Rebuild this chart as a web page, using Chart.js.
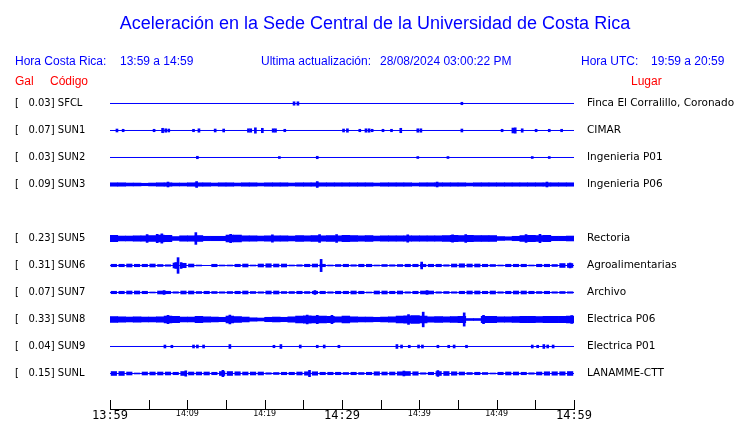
<!DOCTYPE html>
<html>
<head>
<meta charset="utf-8">
<script src="https://cdn.jsdelivr.net/npm/chart.js@4.4.1/dist/chart.umd.min.js"></script>
<style>
    body { margin: 0; background: #fff; }
</style>
</head>
<body>
<canvas id="sismo" width="740" height="423"></canvas>
<script>
// --- DATA ---
const codes  = ['SFCL', 'SUN1', 'SUN2', 'SUN3', 'SUN4', 'SUN5', 'SUN6', 'SUN7', 'SUN8', 'SUN9', 'SUNL'];
const peaks  = [0.03, 0.07, 0.03, 0.09, null, 0.23, 0.31, 0.07, 0.33, 0.04, 0.15];
const places = ['Finca El Corralillo, Coronado', 'CIMAR', 'Ingenieria P01', 'Ingenieria P06', '',
                'Rectoria', 'Agroalimentarias', 'Archivo', 'Electrica P06', 'Electrica P01', 'LANAMME-CTT'];
const tickLabels = ['13:59', '', '14:09', '', '14:19', '', '14:29', '', '14:39', '', '14:49', '', '14:59'];

const titleText   = 'Aceleración en la Sede Central de la Universidad de Costa Rica';
const horaCR      = '13:59 a 14:59';
const horaUTC     = '19:59 a 20:59';
const lastUpdate  = '28/08/2024 03:00:22 PM';

// background noise envelope, half amplitude as drawn, one value per minute
const sun3Noise = [0.07,0.07,0.06,0.06,0.05,0.06,0.07,0.07,0.06,0.06, 0.07,0.07,0.07,0.06,0.07,0.07,0.06,0.07,0.07,0.06,
                   0.07,0.07,0.07,0.06,0.07,0.07,0.07,0.07,0.07,0.07, 0.07,0.07,0.07,0.07,0.06,0.07,0.07,0.07,0.07,0.06,
                   0.07,0.07,0.07,0.07,0.07,0.07,0.06,0.07,0.07,0.07, 0.07,0.07,0.07,0.07,0.07,0.07,0.07,0.07,0.07,0.07];
const sun5Noise = [0.13,0.10,0.10,0.11,0.11,0.12,0.14,0.13,0.08,0.11, 0.11,0.12,0.09,0.09,0.09,0.14,0.14,0.11,0.11,0.10,
                   0.11,0.11,0.11,0.10,0.12,0.11,0.12,0.11,0.12,0.11, 0.13,0.12,0.11,0.12,0.10,0.11,0.11,0.11,0.11,0.11,
                   0.11,0.11,0.11,0.12,0.13,0.12,0.13,0.12,0.12,0.12, 0.08,0.07,0.09,0.12,0.13,0.12,0.13,0.09,0.09,0.10];
const sun6Noise = [0.05,0.05,0.06,0.05,0.05,0.06,0.04,0.03,0.10,0.09, 0.06,0.02,0.00,0.05,0.02,0.02,0.05,0.06,0.02,0.06,
                   0.07,0.06,0.06,0.02,0.03,0.05,0.06,0.05,0.02,0.04, 0.05,0.03,0.05,0.05,0.02,0.04,0.03,0.04,0.05,0.05,
                   0.05,0.05,0.05,0.03,0.06,0.07,0.06,0.06,0.05,0.04, 0.02,0.05,0.05,0.05,0.02,0.05,0.05,0.04,0.08,0.08];
const sun7Noise = [0.05,0.05,0.06,0.06,0.05,0.02,0.06,0.05,0.03,0.06, 0.06,0.04,0.05,0.04,0.03,0.04,0.05,0.06,0.04,0.03,
                   0.06,0.06,0.04,0.04,0.05,0.04,0.05,0.05,0.03,0.05, 0.05,0.06,0.05,0.02,0.06,0.06,0.05,0.06,0.03,0.05,
                   0.06,0.06,0.03,0.04,0.03,0.05,0.06,0.06,0.05,0.06, 0.03,0.05,0.06,0.06,0.05,0.04,0.05,0.03,0.04,0.03];
const sun8Noise = [0.12,0.11,0.10,0.11,0.10,0.10,0.11,0.14,0.13,0.10, 0.10,0.13,0.11,0.10,0.09,0.14,0.12,0.10,0.07,0.06,
                   0.09,0.10,0.09,0.11,0.14,0.15,0.14,0.14,0.13,0.11, 0.14,0.11,0.10,0.10,0.09,0.10,0.11,0.14,0.15,0.16,
                   0.14,0.11,0.12,0.11,0.12,0.13,0.04,0.04,0.13,0.13, 0.11,0.11,0.12,0.13,0.13,0.12,0.13,0.13,0.13,0.14];
const sunlNoise = [0.08,0.08,0.06,0.02,0.06,0.06,0.06,0.06,0.05,0.08, 0.06,0.06,0.06,0.05,0.08,0.08,0.07,0.06,0.06,0.06,
                   0.03,0.04,0.05,0.05,0.06,0.07,0.07,0.05,0.05,0.05, 0.04,0.05,0.04,0.05,0.07,0.06,0.06,0.07,0.08,0.07,
                   0.03,0.05,0.08,0.08,0.07,0.06,0.04,0.05,0.04,0.02, 0.05,0.06,0.06,0.05,0.03,0.06,0.07,0.07,0.07,0.08];

// isolated bursts: [minute after 13:59, half amplitude as drawn]
const sfclSpikes = [[23.8,0.07],[24.3,0.07],[45.5,0.05]];
const sun1Spikes = [[0.9,0.06],[1.7,0.05],[5.7,0.05],[6.8,0.09],[7.2,0.07],[7.6,0.06],[10.8,0.05],[11.5,0.07],[13.6,0.06],
                    [14.7,0.06],[17.9,0.07],[18.2,0.07],[18.8,0.11],[19.7,0.09],[21.1,0.07],[21.4,0.07],[22.6,0.05],
                    [30.2,0.06],[30.7,0.07],[32.3,0.05],[33.1,0.07],[33.5,0.07],[33.9,0.05],[35.3,0.05],[36.4,0.05],
                    [37.6,0.09],[39.8,0.07],[40.2,0.07],[45.5,0.06],[50.7,0.05],[52.1,0.10],[52.4,0.11],[53.3,0.07],
                    [55.1,0.05],[56.8,0.05],[58.4,0.05]];
const sun2Spikes = [[11.3,0.05],[21.9,0.04],[26.8,0.05],[39.8,0.04],[43.7,0.04],[54.6,0.04],[56.8,0.04]];
const sun3Spikes = [[7.5,0.10],[11.2,0.12],[26.8,0.12],[42.3,0.10],[56.5,0.10]];
const sun5Spikes = [[4.8,0.16],[6.1,0.17],[6.7,0.19],[11.1,0.24],[15.6,0.17],[21.0,0.15],[27.1,0.16],[29.3,0.16],
                    [38.5,0.15],[44.3,0.15],[46.0,0.16],[53.8,0.16],[55.6,0.17]];
const sun6Spikes = [[8.8,0.32],[8.5,0.12],[9.2,0.12],[27.3,0.25],[40.3,0.14],[59.5,0.10]];
const sun7Spikes = [[7.0,0.08],[26.5,0.08],[41.0,0.08]];
const sun8Spikes = [[7.5,0.17],[15.5,0.18],[25.5,0.18],[26.8,0.17],[28.7,0.17],[38.6,0.20],[40.5,0.30],[45.8,0.27],
                    [48.3,0.17],[59.7,0.16]];
const sun9Spikes = [[7.1,0.06],[8.0,0.05],[10.8,0.06],[11.3,0.06],[12.1,0.06],[15.5,0.08],[21.2,0.05],[22.1,0.08],
                    [24.6,0.06],[26.8,0.05],[27.7,0.06],[29.6,0.05],[37.1,0.08],[37.7,0.06],[38.7,0.05],[39.9,0.06],
                    [40.4,0.06],[42.4,0.05],[43.8,0.05],[44.5,0.06],[46.1,0.05],[54.6,0.06],[55.3,0.05],[56.1,0.08],
                    [56.6,0.06],[57.3,0.06]];
const sunlSpikes = [[9.8,0.11],[14.6,0.13],[25.8,0.13],[38.0,0.10],[42.4,0.12]];

const noiseByCode  = { SUN3: sun3Noise, SUN5: sun5Noise, SUN6: sun6Noise, SUN7: sun7Noise, SUN8: sun8Noise, SUNL: sunlNoise };
const spikesByCode = { SFCL: sfclSpikes, SUN1: sun1Spikes, SUN2: sun2Spikes, SUN3: sun3Spikes, SUN5: sun5Spikes,
                       SUN6: sun6Spikes, SUN7: sun7Spikes, SUN8: sun8Spikes, SUN9: sun9Spikes, SUNL: sunlSpikes };

// --- LAYOUT / STYLE ---
const ROW = 1.1;              // Gal between two traces
const BLUE = '#0000ff';
const RED = '#ff0000';
const denseTraces = ['SUN3', 'SUN5', 'SUN8'];

const datasets = [];
codes.forEach((code, i) => {
    if (peaks[i] === null) return;
    const r = -i * ROW;
    datasets.push({
        type: 'line', data: [{ x: 0, y: r }, { x: 60, y: r }],
        borderColor: BLUE, borderWidth: 1, pointRadius: 0
    });
    const noise = noiseByCode[code];
    if (noise) {
        datasets.push({
            data: noise.map((a, m) => ({ x: m + 0.5, y: [r - a, r + a] })).filter(d => d.y[1] > d.y[0]),
            backgroundColor: BLUE, barThickness: denseTraces.includes(code) ? 7.8 : 5.5, grouped: false
        });
    }
    datasets.push({
        data: spikesByCode[code].map(([t, a]) => ({ x: t, y: [r - a, r + a] })),
        backgroundColor: BLUE, barThickness: 2, grouped: false
    });
});

const rowOf = v => Math.round(-v / ROW);
const rowTicks = scale => {
    scale.ticks = codes.map((c, i) => ({ value: -i * ROW })).filter((t, i) => peaks[i] !== null);
};

const headerPlugin = {
    id: 'header',
    afterDraw(chart) {
        const ctx = chart.ctx;
        ctx.save();
        ctx.textBaseline = 'alphabetic';
        ctx.fillStyle = BLUE;
        ctx.font = '18px "Liberation Sans"';
        ctx.textAlign = 'center';
        ctx.fillText(titleText, 375, 29);

        ctx.textAlign = 'left';
        ctx.font = '12px "Liberation Sans"';
        ctx.fillText('Hora Costa Rica:', 15, 65);
        ctx.fillText(horaCR, 120, 65);
        ctx.fillText('Ultima actualización:', 261, 65);
        ctx.fillText(lastUpdate, 380, 65);
        ctx.fillText('Hora UTC:', 581, 65);
        ctx.fillText(horaUTC, 651, 65);

        ctx.fillStyle = RED;
        ctx.fillText('Gal', 15, 85);
        ctx.fillText('Código', 50, 85);
        ctx.fillText('Lugar', 631, 85);

        // time axis ticks point up into the plot
        const x = chart.scales.x;
        const bottom = chart.chartArea.bottom;
        ctx.strokeStyle = '#000';
        ctx.lineWidth = 1;
        ctx.beginPath();
        x.ticks.forEach(t => {
            const px = Math.round(x.getPixelForValue(t.value)) + 0.5;
            ctx.moveTo(px, bottom - 9);
            ctx.lineTo(px, bottom);
        });
        ctx.stroke();
        ctx.restore();
    }
};

const noPad = s => { s.paddingTop = 0; s.paddingBottom = 0; };

new Chart(document.getElementById('sismo'), {
    type: 'bar',
    data: { datasets },
    options: {
        responsive: false,
        animation: false,
        layout: { padding: { top: 90, left: 15, right: 0, bottom: 0 } },
        plugins: { legend: { display: false }, tooltip: { enabled: false } },
        scales: {
            x: {
                type: 'linear', min: 0, max: 60, offset: false,
                grid: { display: false, drawTicks: false },
                border: { display: true, color: '#000', width: 1 },
                ticks: {
                    stepSize: 5, autoSkip: false, maxRotation: 0, padding: 0, color: '#000',
                    callback: v => tickLabels[Math.round(v / 5)],
                    font: ctx => (ctx.tick && ctx.tick.value % 30 === 0)
                        ? { family: '"DejaVu Sans Mono"', size: 12 }
                        : { family: '"DejaVu Sans"', size: 8 }
                },
                afterFit: s => { s.height = 14; s.paddingLeft = 0; s.paddingRight = 0; }
            },
            y: {
                type: 'linear', position: 'left', min: -11.315 * ROW, max: 0.5 * ROW,
                grid: { display: false, drawTicks: false }, border: { display: false },
                afterBuildTicks: rowTicks,
                ticks: {
                    autoSkip: false, crossAlign: 'far', color: '#000',
                    font: { family: '"DejaVu Sans"', size: 10 },
                    callback: v => { const i = rowOf(v); return '[' + peaks[i].toFixed(2).padStart(7) + '] ' + codes[i]; }
                },
                afterFit: s => { s.width = 95; noPad(s); }
            },
            yR: {
                type: 'linear', position: 'right', min: -11.315 * ROW, max: 0.5 * ROW,
                grid: { display: false, drawTicks: false }, border: { display: false },
                afterBuildTicks: rowTicks,
                ticks: {
                    autoSkip: false, crossAlign: 'near', padding: 13, color: '#000',
                    font: { family: '"DejaVu Sans"', size: 10.5 },
                    callback: v => places[rowOf(v)]
                },
                afterFit: s => { s.width = 166; noPad(s); }
            }
        }
    },
    plugins: [headerPlugin]
});
</script>
</body>
</html>
